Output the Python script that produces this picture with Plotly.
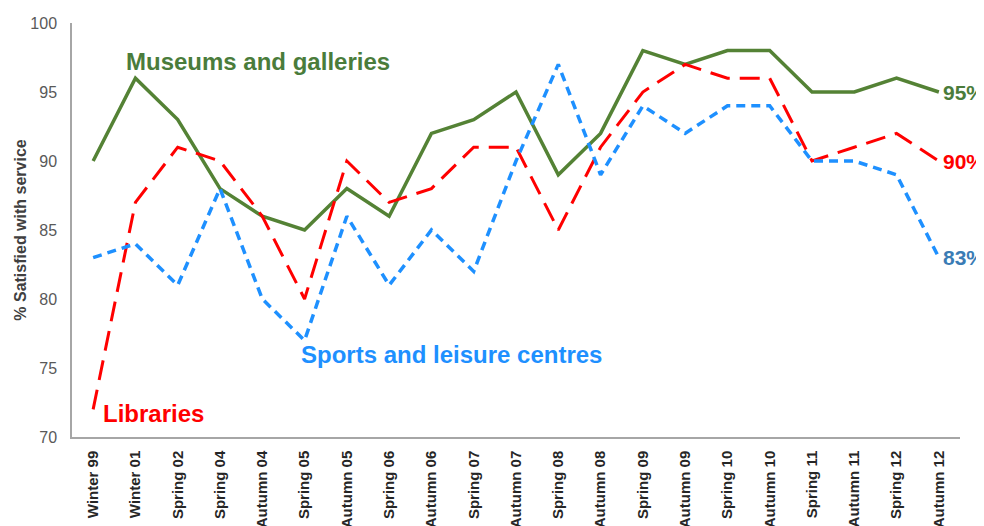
import plotly.graph_objects as go

categories = ["Winter 99", "Winter 01", "Spring 02", "Spring 04", "Autumn 04", "Spring 05",
              "Autumn 05", "Spring 06", "Autumn 06", "Spring 07", "Autumn 07", "Spring 08",
              "Autumn 08", "Spring 09", "Autumn 09", "Spring 10", "Autumn 10", "Spring 11",
              "Autumn 11", "Spring 12", "Autumn 12"]
museums = [90, 96, 93, 88, 86, 85, 88, 86, 92, 93, 95, 89, 92, 98, 97, 98, 98, 95, 95, 96, 95]
libraries = [72, 87, 91, 90, 86, 80, 90, 87, 88, 91, 91, 85, 91, 95, 97, 96, 96, 90, 91, 92, 90]
sports = [83, 84, 81, 88, 80, 77, 86, 81, 85, 82, 90, 97, 89, 94, 92, 94, 94, 90, 90, 89, 83]

FONT = "Arial, Liberation Sans, sans-serif"
GREEN_LINE = "#548235"
GREEN_TEXT = "#4A7C3B"
RED = "#FF0000"
BLUE = "#1E90FF"
BLUE_END = "#3A7CB5"

fig = go.Figure()
fig.add_trace(go.Scatter(x=categories, y=museums, mode="lines",
                         line=dict(color=GREEN_LINE, width=3.5), name="Museums and galleries"))
fig.add_trace(go.Scatter(x=categories, y=libraries, mode="lines",
                         line=dict(color=RED, width=3, dash="20px,10px"), name="Libraries"))
fig.add_trace(go.Scatter(x=categories, y=sports, mode="lines",
                         line=dict(color=BLUE, width=3.5, dash="9px,6px"), name="Sports and leisure centres"))

anns = [
    dict(x=0.73, y=97.2, text="Museums and galleries", color=GREEN_TEXT),
    dict(x=4.87, y=76.0, text="Sports and leisure centres", color=BLUE),
    dict(x=0.19, y=71.7, text="Libraries", color=RED),
]
for a in anns:
    fig.add_annotation(x=a["x"], y=a["y"], xref="x", yref="y", text=a["text"], showarrow=False,
                       xanchor="left", yanchor="middle",
                       font=dict(family=FONT, size=24, color=a["color"], weight="bold"))

for vals, col in [(museums, GREEN_TEXT), (libraries, RED), (sports, BLUE_END)]:
    fig.add_annotation(x=len(categories) - 1, y=vals[-1], xref="x", yref="y", text=f"{vals[-1]}%",
                       showarrow=False, xanchor="left", yanchor="middle", xshift=2,
                       font=dict(family=FONT, size=21, color=col, weight="bold"))

fig.update_layout(
    width=976, height=518,
    margin=dict(l=64, r=24, t=15, b=89, autoexpand=False),
    plot_bgcolor="white", paper_bgcolor="white",
    showlegend=False,
    font=dict(family=FONT),
)
fig.update_xaxes(type="category", showgrid=False, showline=True, linecolor="#A6A6A6", linewidth=1.5,
                 ticks="", tickangle=-90, automargin=False, ticklabelstandoff=6,
                 tickfont=dict(family=FONT, size=15, color="#262626", weight="bold"),
                 range=[-0.5, len(categories) - 0.5])
fig.update_yaxes(range=[70, 100], dtick=5, showgrid=False, showline=True, linecolor="#A6A6A6",
                 linewidth=1.5, ticks="", automargin=False, ticklabelstandoff=10, zeroline=False,
                 tickfont=dict(family=FONT, size=16, color="#595959"),
                 title=dict(text="% Satisfied with service", standoff=0,
                            font=dict(family=FONT, size=16, color="#404040", weight="bold")))

fig.write_html("out.html")
